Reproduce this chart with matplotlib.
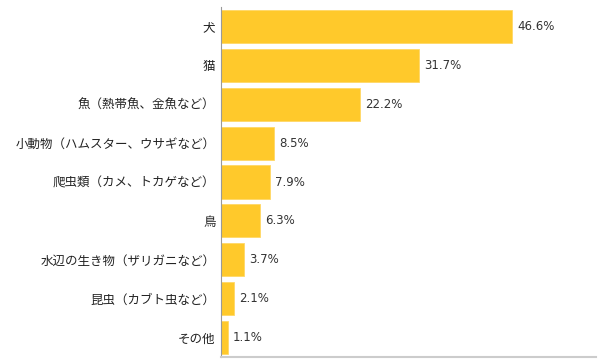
import matplotlib
matplotlib.use("Agg")
import matplotlib.pyplot as plt

plt.rcParams['font.family'] = ['Noto Sans CJK JP', 'DejaVu Sans']

categories = ["犬", "猫", "魚（熱帯魚、金魚など）", "小動物（ハムスター、ウサギなど）",
              "爬虫類（カメ、トカゲなど）", "鳥", "水辺の生き物（ザリガニなど）",
              "昆虫（カブト虫など）", "その他"]
values = [46.6, 31.7, 22.2, 8.5, 7.9, 6.3, 3.7, 2.1, 1.1]

fig = plt.figure(figsize=(6, 3.64), dpi=100)
ax = fig.add_axes([221 / 600, 1 - 357 / 364, 375 / 600, 350 / 364])

pos = list(range(len(categories)))
ax.barh(pos, values, height=0.85, color="#FFC92B", edgecolor="#FFD866", linewidth=0.6)
for p, v in zip(pos, values):
    ax.text(v + 0.8, p, f"{v}%", va="center", ha="left", fontsize=8.5,
            color="#333333", family="DejaVu Sans")

ax.set_xlim(0, 60)
ax.set_ylim(len(categories) - 0.5, -0.5)
ax.set_yticks(pos)
ax.set_yticklabels(categories, fontsize=9, color="#222222")
ax.tick_params(axis="y", length=0, pad=4)
ax.set_xticks([])
for s in ["top", "right"]:
    ax.spines[s].set_visible(False)
ax.spines["left"].set_color("#999999")
ax.spines["bottom"].set_color("#cccccc")
ax.spines["bottom"].set_linewidth(1.5)

fig.savefig("out.png", dpi=100)
